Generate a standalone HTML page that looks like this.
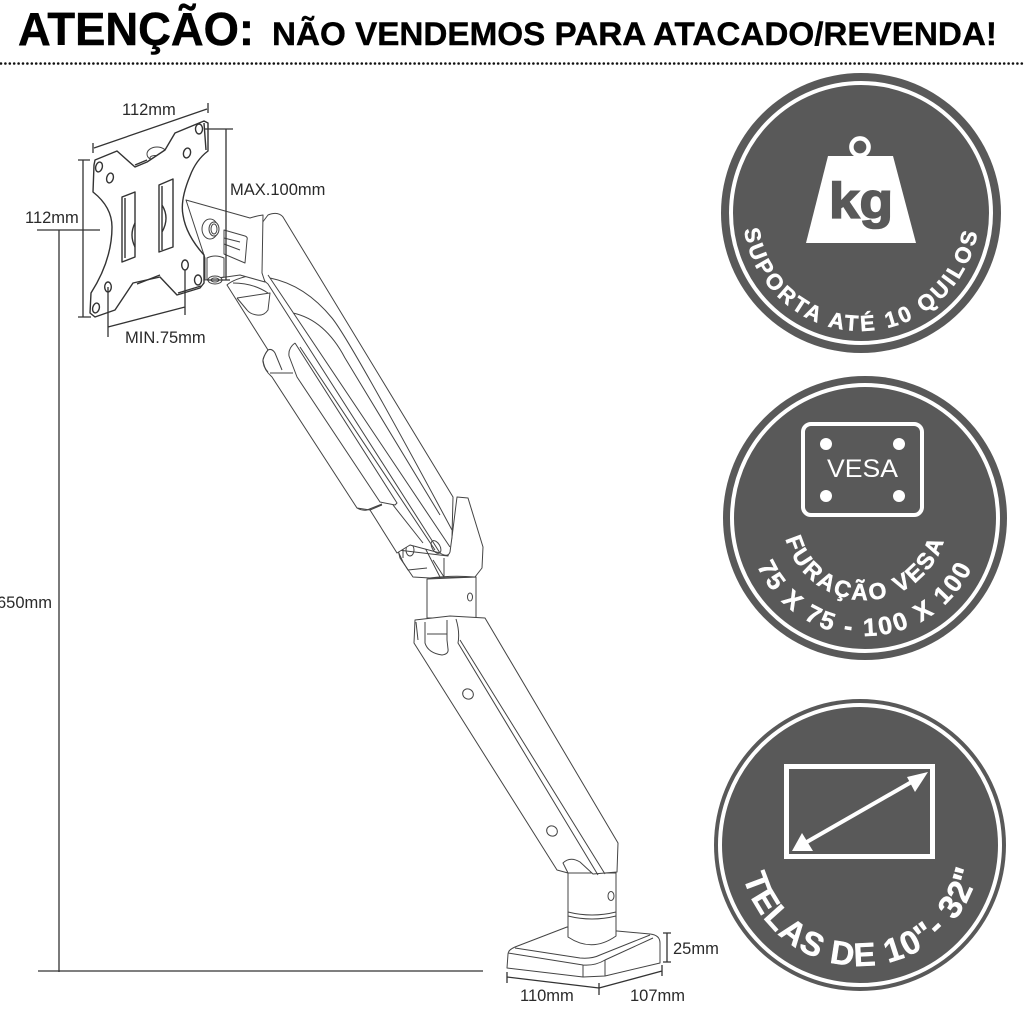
<!DOCTYPE html>
<html><head><meta charset="utf-8"><style>
html,body{margin:0;padding:0;background:#fff}
svg{display:block}
.d{font-family:"Liberation Sans",sans-serif;font-size:16.5px;fill:#2a2a2a}
.a{fill:#fff;stroke:#444;stroke-width:1;stroke-linejoin:round}
.n{fill:none;stroke:#444;stroke-width:1;stroke-linejoin:round}
.p{fill:#fff;stroke:#333;stroke-width:1.4;stroke-linejoin:round}
.q{fill:none;stroke:#333;stroke-width:1.4;stroke-linejoin:round}
.m{fill:none;stroke:#333;stroke-width:1.3}
.b{font-family:"Liberation Sans",sans-serif;font-weight:bold;fill:#fff;stroke:#fff;stroke-width:.5}
</style></head><body>
<svg width="1024" height="1024" viewBox="0 0 1024 1024" xmlns="http://www.w3.org/2000/svg">
<rect width="1024" height="1024" fill="#fff"/>
<text x="18" y="45" font-family="Liberation Sans" font-weight="bold" font-size="46" textLength="236" lengthAdjust="spacingAndGlyphs" fill="#000" stroke="#000" stroke-width=".5">ATENÇÃO:</text>
<text x="272" y="45" font-family="Liberation Sans" font-weight="bold" font-size="32.5" textLength="725" lengthAdjust="spacingAndGlyphs" fill="#000" stroke="#000" stroke-width=".4">NÃO VENDEMOS PARA ATACADO/REVENDA!</text>
<line x1="1" y1="63.5" x2="1024" y2="63.5" stroke="#111" stroke-width="2.6" stroke-linecap="round" stroke-dasharray="0 4.4"/>

<!-- lower arm & base -->
<path class="a" d="M567 927L515 947Q508 950 508 954L507 968L583 977L605 976L660 963L660 943Q660 935 650 934L617 931Z"/>
<path class="n" d="M508 953L583 965Q595 966 605 960L653 938M515 948L580 958Q592 959 600 955L650 935M583 965V977M605 960V976"/>
<path class="a" d="M568 873V937Q592 953 616 936V873Z"/>
<path class="n" d="M568 912Q592 918 616 912M568 916Q592 922 616 916"/>
<ellipse class="n" cx="611" cy="896" rx="3" ry="4.5"/>
<path class="a" d="M427 579V618H476V577Z"/>
<ellipse class="n" cx="470" cy="597" rx="2.5" ry="4"/>
<path class="a" d="M415 620Q432 618 450 616L485 618L618 843L617 872L593 874L580 862Q570 856 563 863L568 873L557 870L414 643Z"/>
<path class="n" d="M456 619Q460 632 458 643L598 875M460 640L605 874M425 622V643Q428 653 442 655Q449 654 448 649L447 640M427 634H447M416 622L418 640M447 620V640"/>
<ellipse class="n" cx="468" cy="694" rx="5.5" ry="5" transform="rotate(35 468 694)"/>
<ellipse class="n" cx="552" cy="831" rx="5.5" ry="5" transform="rotate(35 552 831)"/>

<!-- elbow -->
<path class="a" d="M400 558L413 577L430 578L475 577L482 568L483 547L468 498L457 497L452 537L448 556L398 550Z"/>
<path class="n" d="M397 547L422 542L440 577M397 549L403 562L408 570L427 568M403 545V558M433 560L444 577L444 558"/>
<ellipse class="n" cx="410" cy="550" rx="4" ry="6"/>
<path class="n" d="M430 578Q452 575 475 577"/>

<!-- upper arm -->
<path class="a" d="M227 285L268 350Q262 358 263 362Q264 370 272 377L357 508L370 510L397 553L410 545L440 553Q448 558 450 552L452 537L453 497L283 217Q278 211 268 215L262 223V273Q234 278 227 285Z"/>
<path class="n" d="M233 283Q253 283 268 293M262 273Q262 280 268 284L440 553M268 275L450 547M270 278Q305 285 332 318Q350 340 452 530M293 313Q325 320 345 358L440 515"/>
<path class="n" d="M295 343Q288 348 289 356L297 377L380 502L395 505L397 503L295 343M300 347L435 550"/>
<path class="n" d="M270 373H293M268 350Q265 353 263 360Q264 368 268 372M268 350Q272 348 275 353L282 370"/>
<path class="n" d="M357 508Q362 511 367 510L382 504M370 510L382 505M393 505L423 543"/>
<ellipse class="n" cx="436" cy="547" rx="4" ry="7" transform="rotate(-30 436 547)"/>
<path class="n" d="M237 298L270 293L268 310Q264 316 257 315Q250 314 247 310L237 298"/>

<!-- joint -->
<path class="a" d="M186 200L250 218Q256 216 263 215L262 273L265 282L240 275L205 280V258L204 255Z"/>
<path class="a" d="M224 230L245 236Q248 237 247 240L245 263L224 254Z"/>
<path class="n" d="M224 244L240 250M224 238L240 242"/>
<path class="a" d="M207 258Q215 254 224 258V277L207 280Z"/>
<ellipse class="a" cx="215" cy="280" rx="7" ry="4"/>
<ellipse class="n" cx="215" cy="280" rx="4" ry="2"/>
<ellipse class="a" cx="210" cy="229" rx="8" ry="10"/>
<ellipse class="a" cx="214" cy="229" rx="5" ry="7"/>
<ellipse class="n" cx="214" cy="229" rx="3" ry="5"/>

<!-- plate -->
<ellipse class="a" cx="157" cy="154" rx="10" ry="7"/>
<ellipse class="n" cx="155" cy="158" rx="5" ry="2.5"/>
<path class="p" d="M95 160L117 151L135 167L147 162L165 150L175 133L204 121L208 123V151Q196 160 190 176Q180 200 183 215Q186 235 204 255V283L200 288L177 295L160 277L133 283L115 310L95 317L90 313L91 293Q112 260 112 227Q112 207 93 192L94 165Z"/>
<path class="q" d="M135 165L147 160M137 284L160 275M204 123L206 150M178 293L201 286"/>
<path class="q" d="M122 197L135 192V257L122 262Z"/>
<path class="q" d="M125 198V258M135 223Q129 235 135 247"/>
<path class="q" d="M159 185L173 179V247L159 252Z"/>
<path class="q" d="M162 186V250M162 205Q170 218 162 232"/>
<ellipse class="q" cx="99" cy="167" rx="3.3" ry="5" transform="rotate(15 99 167)"/>
<ellipse class="q" cx="110" cy="178" rx="3.3" ry="5" transform="rotate(15 110 178)"/>
<ellipse class="q" cx="199" cy="129" rx="3.5" ry="5"/>
<ellipse class="q" cx="187" cy="153" rx="3.5" ry="5" transform="rotate(15 187 153)"/>
<ellipse class="q" cx="108" cy="287" rx="3.3" ry="5"/>
<ellipse class="q" cx="96" cy="308" rx="3.3" ry="5" transform="rotate(15 96 308)"/>
<ellipse class="q" cx="185" cy="265" rx="3.3" ry="5"/>
<ellipse class="q" cx="198" cy="280" rx="3.5" ry="5"/>

<!-- dimensions -->
<path class="m" d="M94 148L207 109M93 143V153M208 103V113"/>
<path class="m" d="M83 160V317M78 160H90M78 317H91"/>
<path class="m" d="M37 230H100M59 230V972M38 971H483"/>
<path class="m" d="M226 129V280M204 129H233M207 280H230"/>
<path class="m" d="M108 287V337M108 327L185 307M185 270V315"/>
<path class="m" d="M507 972V983M507 977L599 988M599 983V995M599 988L662 971M662 965V976"/>
<path class="m" d="M667 933V962M663 933H671M663 962H671"/>
<text class="d" x="122" y="115">112mm</text>
<text class="d" x="25" y="223">112mm</text>
<text class="d" x="230" y="195">MAX.100mm</text>
<text class="d" x="125" y="343">MIN.75mm</text>
<text class="d" x="-3" y="608">650mm</text>
<text class="d" x="673" y="954">25mm</text>
<text class="d" x="520" y="1001">110mm</text>
<text class="d" x="630" y="1001">107mm</text>

<defs>
<path id="p1" d="M743 213A118 118 0 0 0 979 213"/>
<path id="p2a" d="M783 518A82 82 0 0 0 947 518"/>
<path id="p2b" d="M747 518A118 118 0 0 0 983 518"/>
<path id="p3" d="M739 845A121 121 0 0 0 981 845"/>
</defs>

<!-- badge 1 -->
<circle cx="861" cy="213" r="140" fill="#595959"/>
<circle cx="861" cy="213" r="130" fill="none" stroke="#fff" stroke-width="4"/>
<circle cx="860" cy="147" r="8.6" fill="none" stroke="#fff" stroke-width="4.5"/>
<path d="M828 156H893L916 243H806Z" fill="#fff"/>
<text x="829" y="218" font-family="Liberation Sans" font-weight="bold" font-size="50" textLength="64" lengthAdjust="spacingAndGlyphs" fill="#595959" stroke="#595959" stroke-width="1.6">kg</text>
<text class="b" font-size="22" letter-spacing="3" text-anchor="middle"><textPath href="#p1" startOffset="50%">SUPORTA ATÉ 10 QUILOS</textPath></text>

<!-- badge 2 -->
<circle cx="865" cy="518" r="142" fill="#595959"/>
<circle cx="865" cy="518" r="133" fill="none" stroke="#fff" stroke-width="4"/>
<rect x="803" y="424" width="119" height="91" rx="8" fill="none" stroke="#fff" stroke-width="4"/>
<circle cx="826" cy="444" r="6" fill="#fff"/><circle cx="899" cy="444" r="6" fill="#fff"/>
<circle cx="826" cy="496" r="6" fill="#fff"/><circle cx="899" cy="496" r="6" fill="#fff"/>
<text x="827" y="477" font-family="Liberation Sans" font-size="25" textLength="71" lengthAdjust="spacingAndGlyphs" fill="#fff">VESA</text>
<text class="b" font-size="23" letter-spacing="2.6" text-anchor="middle"><textPath href="#p2a" startOffset="50%">FURAÇÃO VESA</textPath></text>
<text class="b" font-size="25" letter-spacing="2.6" text-anchor="middle"><textPath href="#p2b" startOffset="50%">75 X 75 - 100 X 100</textPath></text>

<!-- badge 3 -->
<circle cx="860" cy="845" r="146" fill="#595959"/>
<circle cx="860" cy="845" r="140" fill="none" stroke="#fff" stroke-width="4"/>
<rect x="786.5" y="766.5" width="146" height="90" fill="none" stroke="#fff" stroke-width="5"/>
<line x1="805" y1="843" x2="915" y2="780" stroke="#fff" stroke-width="4"/>
<path d="M928 772L915 792L907 777Z" fill="#fff"/>
<path d="M792 851H813L802 833Z" fill="#fff"/>
<text class="b" font-size="33" letter-spacing="1.5" text-anchor="middle"><textPath href="#p3" startOffset="51%">TELAS DE 10"- 32"</textPath></text>
</svg>
</body></html>
